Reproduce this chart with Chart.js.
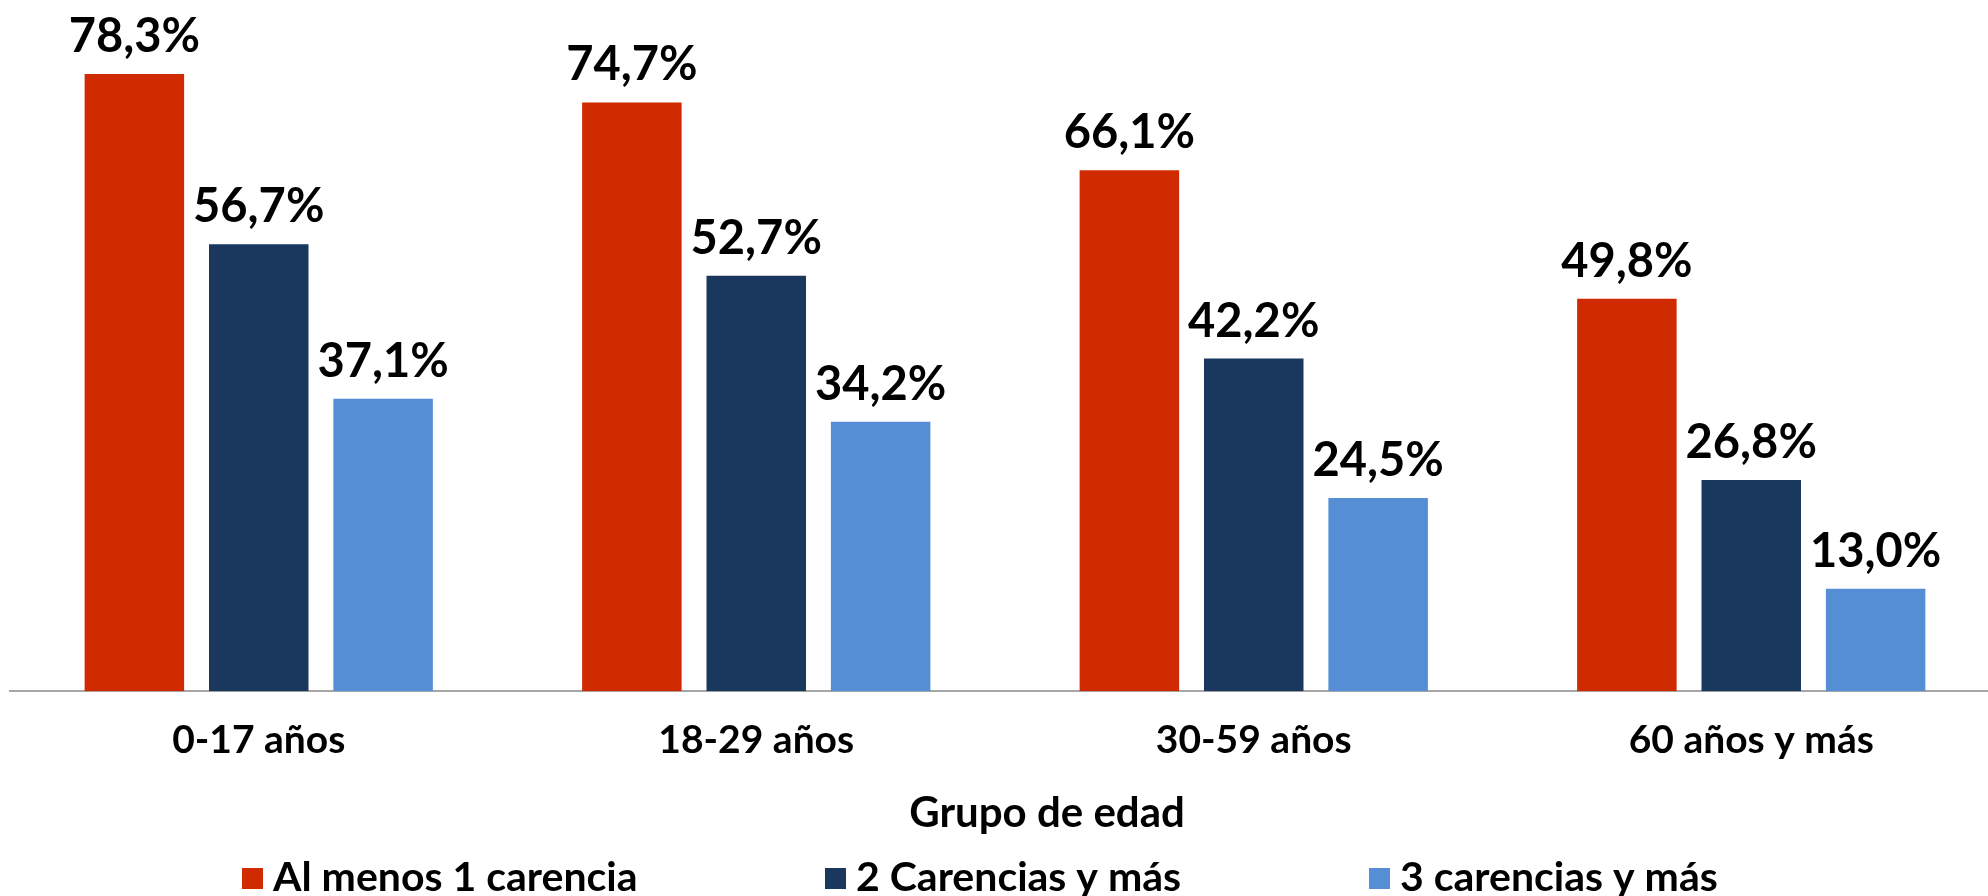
<!DOCTYPE html>
<html lang="es">
<head>
<meta charset="utf-8">
<title>Carencias por grupo de edad</title>
<script src="https://cdn.jsdelivr.net/npm/chart.js@4.4.1/dist/chart.umd.min.js"></script>
<style>
    html, body { margin: 0; padding: 0; background: #ffffff; overflow: hidden; }
    #contenedor { width: 2000px; height: 896px; }
</style>
</head>
<body>
<div id="contenedor">
    <canvas id="graficoCarencias" width="2000" height="896"></canvas>
</div>
<script>
// Datos del gráfico: porcentaje de población con carencias por grupo de edad
var gruposEdad = ['0-17 años', '18-29 años', '30-59 años', '60 años y más'];
var alMenosUna = [78.3, 74.7, 66.1, 49.8];
var dosOMas = [56.7, 52.7, 42.2, 26.8];
var tresOMas = [37.1, 34.2, 24.5, 13.0];
var nombresSeries = ['Al menos 1 carencia', '2 Carencias y más', '3 carencias y más'];
var tituloEje = 'Grupo de edad';

var colores = ['#D02A00', '#1A375E', '#558ED5'];
var FUENTE = 'Lato, "Open Sans", sans-serif';

// Posición horizontal de cada cuadro de la leyenda (igual que en Excel)
var inicioLeyenda = [242, 825, 1369];

function formatoPorcentaje(v) {
    return v.toFixed(1).replace('.', ',') + '%';
}

// Etiquetas de valor encima de cada barra
var etiquetasValor = {
    id: 'etiquetasValor',
    afterDatasetsDraw: function (chart) {
        var ctx = chart.ctx;
        ctx.save();
        ctx.font = 'bold 47px ' + FUENTE;
        ctx.fillStyle = '#000000';
        ctx.textAlign = 'center';
        ctx.textBaseline = 'alphabetic';
        chart.data.datasets.forEach(function (ds, i) {
            var meta = chart.getDatasetMeta(i);
            meta.data.forEach(function (barra, j) {
                ctx.fillText(formatoPorcentaje(ds.data[j]), barra.x, barra.y - 22);
            });
        });
        ctx.restore();
    }
};

// Título del eje y leyenda inferior
var leyendaInferior = {
    id: 'leyendaInferior',
    afterDraw: function (chart) {
        var ctx = chart.ctx;
        ctx.save();
        ctx.font = 'bold 42px ' + FUENTE;
        ctx.fillStyle = '#000000';
        ctx.textBaseline = 'alphabetic';
        ctx.textAlign = 'center';
        ctx.fillText(tituloEje, 1047, 827);

        var caja = 21, separacion = 10;
        ctx.font = 'bold 41px ' + FUENTE;
        ctx.textAlign = 'left';
        chart.data.datasets.forEach(function (ds, i) {
            var x = inicioLeyenda[i];
            ctx.fillStyle = ds.backgroundColor;
            ctx.fillRect(x, 868, caja, caja);
            ctx.fillStyle = '#000000';
            ctx.fillText(ds.label, x + caja + separacion, 891);
        });
        ctx.restore();
    }
};

function crearGrafico() {
    var ctx = document.getElementById('graficoCarencias').getContext('2d');
    new Chart(ctx, {
        type: 'bar',
        data: {
            labels: gruposEdad,
            datasets: [
                { label: nombresSeries[0], data: alMenosUna, backgroundColor: colores[0] },
                { label: nombresSeries[1], data: dosOMas, backgroundColor: colores[1] },
                { label: nombresSeries[2], data: tresOMas, backgroundColor: colores[2] }
            ]
        },
        options: {
            responsive: false,
            animation: false,
            events: [],
            layout: { padding: { left: 10, right: 0, top: 0, bottom: 106 } },
            datasets: { bar: { categoryPercentage: 0.75, barPercentage: 0.8 } },
            plugins: {
                legend: { display: false },
                tooltip: { enabled: false }
            },
            scales: {
                x: {
                    grid: { display: false, drawTicks: false },
                    border: { display: true, color: '#A6A6A6', width: 2 },
                    ticks: {
                        color: '#000000',
                        padding: 26,
                        font: { family: FUENTE, size: 39, weight: 'bold' }
                    }
                },
                y: {
                    display: false,
                    min: 0,
                    max: 87.7
                }
            }
        },
        plugins: [etiquetasValor, leyendaInferior]
    });
}

if (document.fonts && document.fonts.load) {
    Promise.all([
        document.fonts.load('bold 39px Lato'),
        document.fonts.load('bold 47px Lato')
    ]).then(crearGrafico, crearGrafico);
} else {
    crearGrafico();
}
</script>
</body>
</html>
